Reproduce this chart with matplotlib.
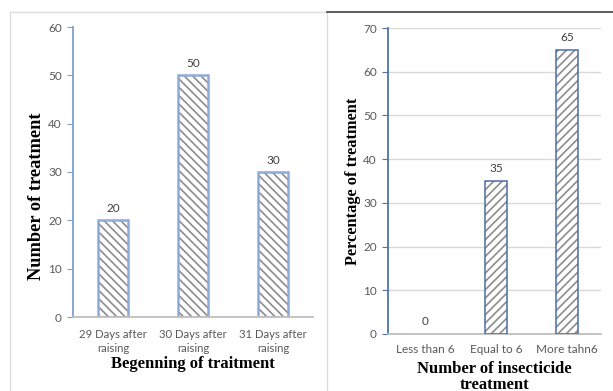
import matplotlib.pyplot as plt
from matplotlib.lines import Line2D

# left chart: start of treatment
start_labels = ["29 Days after\nraising", "30 Days after\nraising", "31 Days after\nraising"]
start_counts = [20, 50, 30]

# right chart: number of insecticide treatments
ins_labels = ["Less than 6", "Equal to 6", "More tahn6"]
ins_percent = [0, 35, 65]

W, H = 613, 391
tick_font = "Lato"
label_font = "Liberation Serif"
tick_grey = "#595959"
plt.rcParams["hatch.linewidth"] = 1.2

fig = plt.figure(figsize=(W / 100, H / 100), dpi=100)


def px_axes(left, top, right, bottom):
    return fig.add_axes([left / W, 1 - bottom / H, (right - left) / W, (bottom - top) / H])


def fig_line(x0, y0, x1, y1, color, lw):
    fig.add_artist(Line2D([x0 / W, x1 / W], [1 - y0 / H, 1 - y1 / H],
                          transform=fig.transFigure, color=color, lw=lw))


# panel frames
fig_line(10, 12, 327, 12, "#dcdcdc", 1.0)
fig_line(10, 12, 10, 391, "#dcdcdc", 1.0)
fig_line(327, 12, 327, 391, "#dcdcdc", 1.0)
fig_line(327, 12, 613, 12, "#404040", 1.2)

# ---- left chart
ax1 = px_axes(73, 27, 313, 317)
x = range(len(start_counts))
ax1.bar(x, start_counts, width=0.375, color="white", edgecolor="#8c8c8c",
        hatch="\\\\\\\\", linewidth=0)
ax1.bar(x, start_counts, width=0.375, fill=False, edgecolor="#8eaadb", linewidth=1.8)
for i, v in enumerate(start_counts):
    ax1.text(i, v + 1.3, str(v), ha="center", va="bottom", fontsize=8.5,
             family=tick_font, color="#404040")
ax1.set_xlim(-0.5, 2.5)
ax1.set_ylim(0, 60)
ax1.set_yticks(range(0, 61, 10))
ax1.set_xticks(list(x))
ax1.set_xticklabels(start_labels, linespacing=1.3)
ax1.set_xlabel("Begenning of traitment", family=label_font, fontweight="bold",
               fontsize=12, va="center")
ax1.xaxis.set_label_coords(0.5, -0.163)
ax1.set_ylabel("Number of treatment", family=label_font, fontweight="bold",
               fontsize=13.2, va="center")
ax1.yaxis.set_label_coords(-0.15, 0.417)
for s in ["top", "right"]:
    ax1.spines[s].set_visible(False)
ax1.spines["left"].set_color("#7f9fcf")
ax1.spines["left"].set_linewidth(1.3)
ax1.spines["bottom"].set_color("#bfbfbf")
ax1.spines["bottom"].set_linewidth(1.3)
ax1.tick_params(axis="y", length=4, color="#7f9fcf", labelsize=8.5,
                labelcolor=tick_grey, pad=4)
ax1.tick_params(axis="x", length=0, labelsize=8.2, labelcolor=tick_grey, pad=9)
for t in ax1.get_xticklabels() + ax1.get_yticklabels():
    t.set_family(tick_font)

# ---- right chart
ax2 = px_axes(388, 28, 601, 334)
x2 = range(len(ins_percent))
ax2.bar(x2, ins_percent, width=0.31, color="white", edgecolor="#8c8c8c",
        hatch="////", linewidth=0, zorder=2)
bars = ax2.bar(x2, ins_percent, width=0.31, fill=False, edgecolor="#4a6fa5",
               linewidth=1.1, zorder=3)
bars[0].set_visible(ins_percent[0] > 0)
for i, v in enumerate(ins_percent):
    ax2.text(i, v + 1.6, str(v), ha="center", va="bottom", fontsize=8.5,
             family=tick_font, color="#404040")
ax2.set_xlim(-0.52, 2.48)
ax2.set_ylim(0, 70)
ax2.set_yticks(range(0, 71, 10))
ax2.set_xticks(list(x2))
ax2.set_xticklabels(ins_labels)
ax2.yaxis.grid(True, color="#d9d9d9", lw=1.0, zorder=0)
ax2.set_axisbelow(True)
ax2.set_xlabel("Number of insecticide\ntreatment", family=label_font,
               fontweight="bold", fontsize=12, va="center", linespacing=0.95)
ax2.xaxis.set_label_coords(0.5, -0.14)
ax2.set_ylabel("Percentage of treatment", family=label_font, fontweight="bold",
               fontsize=11.8, va="center")
ax2.yaxis.set_label_coords(-0.164, 0.5)
for s in ["top", "right"]:
    ax2.spines[s].set_visible(False)
ax2.spines["left"].set_color("#4f72aa")
ax2.spines["left"].set_linewidth(1.3)
ax2.spines["bottom"].set_color("#bfbfbf")
ax2.spines["bottom"].set_linewidth(1.3)
ax2.tick_params(axis="y", length=4, color="#4f72aa", labelsize=8.5,
                labelcolor=tick_grey, pad=4)
ax2.tick_params(axis="x", length=0, labelsize=8.5, labelcolor=tick_grey, pad=7)
for t in ax2.get_xticklabels() + ax2.get_yticklabels():
    t.set_family(tick_font)

fig.savefig("out.png", dpi=100)
